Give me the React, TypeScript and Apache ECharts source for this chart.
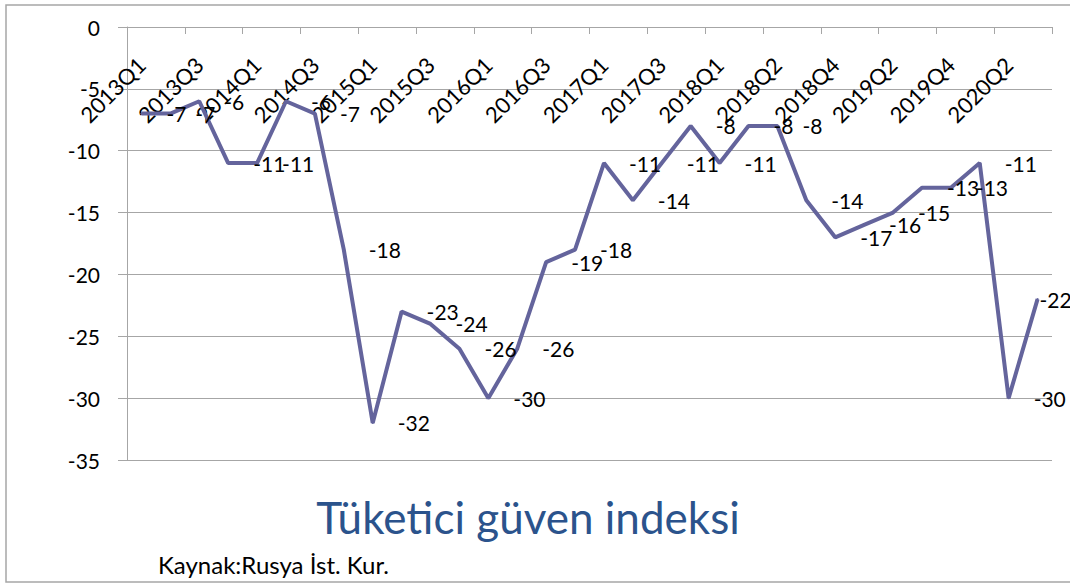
import React, { useEffect, useRef } from "react";
import * as echarts from "echarts";

const categories: string[] = [
  "2013Q1", "2013Q2", "2013Q3", "2013Q4",
  "2014Q1", "2014Q2", "2014Q3", "2014Q4",
  "2015Q1", "2015Q2", "2015Q3", "2015Q4",
  "2016Q1", "2016Q2", "2016Q3", "2016Q4",
  "2017Q1", "2017Q2", "2017Q3", "2017Q4",
  "2018Q1", "", "2018Q2", "2018Q3",
  "2018Q4", "2019Q1", "2019Q2", "2019Q3",
  "2019Q4", "2020Q1", "2020Q2", "2020Q3",
];

const confidence: number[] = [
  -7, -7, -6, -11, -11, -6, -7, -18,
  -32, -23, -24, -26, -30, -26, -19, -18,
  -11, -14, -11, -8, -11, -8, -8, -14,
  -17, -16, -15, -13, -13, -11, -30, -22,
];

const yMin = -35;
const yMax = 0;
const yStep = 5;

const titleText = "Tüketici güven indeksi";
const sourceText = "Kaynak:Rusya İst. Kur.";

const FONT = "Lato, 'Open Sans', 'Noto Sans', sans-serif";
const LINE_COLOR = "#64649c";
const GRID_COLOR = "#a6a6a6";

export default function App() {
  const ref = useRef<HTMLDivElement>(null);

  useEffect(() => {
    if (!ref.current) return;
    const chart = echarts.init(ref.current, undefined, { renderer: "svg" });

    const lastIdx = confidence.length - 1;
    const seriesData = confidence.map((v, i) =>
      i === lastIdx ? { value: v, label: { distance: 1 } } : v
    );

    chart.setOption({
      animation: false,
      backgroundColor: "#ffffff",
      grid: { left: 127, top: 27, width: 925, height: 433, containLabel: false },
      xAxis: {
        type: "category",
        data: categories,
        boundaryGap: true,
        position: "top",
        axisLine: { show: true, onZero: false, lineStyle: { color: GRID_COLOR, width: 1 } },
        axisTick: { show: true, inside: true, length: 7, lineStyle: { color: GRID_COLOR, width: 1 } },
        axisLabel: {
          interval: 1,
          rotate: -45,
          inside: true,
          margin: 34,
          align: "right",
          verticalAlign: "middle",
          fontSize: 22,
          fontFamily: FONT,
          color: "#000000",
        },
        splitLine: { show: false },
      },
      yAxis: {
        type: "value",
        min: yMin,
        max: yMax,
        interval: yStep,
        axisLine: { show: true, lineStyle: { color: GRID_COLOR, width: 1 } },
        axisTick: { show: true, length: 9, lineStyle: { color: GRID_COLOR, width: 1 } },
        axisLabel: { margin: 27, fontSize: 21, fontFamily: FONT, color: "#000000" },
        splitLine: { show: true, lineStyle: { color: GRID_COLOR, width: 1 } },
      },
      series: [
        {
          type: "line",
          data: seriesData,
          symbol: "circle",
          symbolSize: 2,
          showSymbol: true,
          itemStyle: { color: LINE_COLOR },
          lineStyle: { color: LINE_COLOR, width: 4 },
          label: {
            show: true,
            position: "right",
            distance: 24,
            fontSize: 21,
            fontFamily: FONT,
            color: "#000000",
          },
          z: 3,
        },
      ],
      graphic: [
        {
          type: "rect",
          shape: { x: 6, y: 5, width: 1100, height: 577 },
          style: { fill: "none", stroke: "#a6a6a6", lineWidth: 1.5 },
          silent: true,
          z: -1,
        },
        {
          type: "text",
          x: 528,
          y: 517,
          style: {
            text: titleText,
            font: `44px ${FONT}`,
            fill: "#2b538c",
            align: "center",
            verticalAlign: "middle",
          },
        },
        {
          type: "text",
          x: 158,
          y: 564,
          style: {
            text: sourceText,
            font: `24px ${FONT}`,
            fill: "#000000",
            align: "left",
            verticalAlign: "middle",
          },
        },
      ],
    });

    return () => chart.dispose();
  }, []);

  return (
    <div
      ref={ref}
      style={{ position: "fixed", left: 0, top: 0, width: 1070, height: 585 }}
    />
  );
}
